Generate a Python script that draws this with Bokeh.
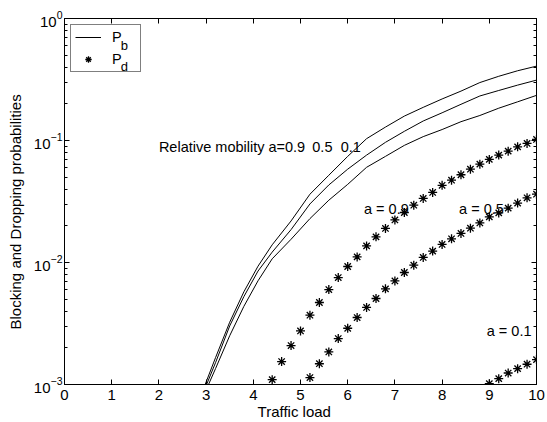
from bokeh.plotting import figure
from bokeh.models import (Range1d, LinearAxis, LogAxis, Label, Legend, LegendItem,
                          FixedTicker)
from bokeh.embed import file_html
from bokeh.resources import INLINE

# ---------------- data ----------------
pb_x_a09 = [2.95, 3.2, 3.5, 3.8, 4.1, 4.4, 4.8, 5.2, 5.6, 6.0, 6.4, 6.8, 7.2, 7.6, 8.0, 8.4, 8.8, 9.2, 9.6, 10.0]
pb_y_a09 = [0.000933, 0.00166, 0.00324, 0.00575, 0.00933, 0.01396, 0.0219, 0.0363, 0.0519, 0.0741,
            0.1035, 0.1288, 0.1585, 0.187, 0.219, 0.254, 0.2985, 0.336, 0.373, 0.407]
pb_x_a05 = [3.0, 3.2, 3.5, 3.8, 4.1, 4.4, 4.8, 5.2, 5.6, 6.0, 6.4, 6.8, 7.2, 7.6, 8.0, 8.4, 8.8, 9.2, 9.6, 10.0]
pb_y_a05 = [0.000977, 0.00151, 0.00302, 0.00525, 0.00851, 0.01216, 0.0186, 0.0302, 0.0432, 0.0582,
            0.0759, 0.0966, 0.1189, 0.1445, 0.1687, 0.198, 0.2317, 0.257, 0.2844, 0.3126]
pb_x_a01 = [3.04, 3.2, 3.5, 3.8, 4.1, 4.4, 4.8, 5.2, 5.6, 6.0, 6.4, 6.8, 7.2, 7.6, 8.0, 8.4, 8.8, 9.2, 9.6, 10.0]
pb_y_a01 = [0.000977, 0.00135, 0.00251, 0.00437, 0.00708, 0.01072, 0.0155, 0.0229, 0.0324, 0.0437,
            0.0603, 0.0741, 0.0912, 0.1076, 0.123, 0.1426, 0.1603, 0.184, 0.2075, 0.2344]

pd_x_a09 = [4.4, 4.6, 4.8, 5.0, 5.2, 5.4, 5.6, 5.8, 6.0, 6.2, 6.4, 6.6, 6.8, 7.0, 7.2, 7.4, 7.6, 7.8,
            8.0, 8.2, 8.4, 8.6, 8.8, 9.0, 9.2, 9.4, 9.6, 9.8, 10.0]
pd_y_a09 = [0.001096, 0.001542, 0.002084, 0.002748, 0.003698, 0.004699, 0.0060, 0.00753, 0.00927,
            0.01112, 0.01368, 0.01622, 0.01901, 0.02234, 0.0257, 0.0295, 0.0335, 0.0375, 0.0429,
            0.0473, 0.0524, 0.0582, 0.0640, 0.0700, 0.0759, 0.0818, 0.0887, 0.0946, 0.102]
pd_x_a05 = [5.2, 5.4, 5.6, 5.8, 6.0, 6.2, 6.4, 6.6, 6.8, 7.0, 7.2, 7.4, 7.6, 7.8, 8.0, 8.2, 8.4,
            8.6, 8.8, 9.0, 9.2, 9.4, 9.6, 9.8, 10.0]
pd_y_a05 = [0.00114, 0.00148, 0.00185, 0.00238, 0.00289, 0.00354, 0.00428, 0.00507, 0.00608,
            0.00706, 0.00828, 0.0095, 0.0110, 0.0124, 0.01406, 0.01563, 0.0173, 0.0191, 0.0211,
            0.02366, 0.0255, 0.0279, 0.0307, 0.0339, 0.0363]
pd_x_a01 = [9.0, 9.2, 9.4, 9.6, 9.8, 10.0]
pd_y_a01 = [0.001016, 0.001117, 0.001242, 0.001349, 0.001466, 0.0016]

x_ticks = [0, 1, 2, 3, 4, 5, 6, 7, 8, 9, 10]
y_ticks = [0.001, 0.01, 0.1, 1.0]
y_minor = [m * 10.0 ** e for e in (-3, -2, -1) for m in range(2, 10)]

FONT = "Liberation Sans"
FS_TICK = "15px"
FS_AXIS = "15px"
FS_NOTE = "14.5px"
NBSP = "\u00a0"

p = figure(width=547, height=422,
           x_range=Range1d(0, 10), y_range=Range1d(0.001, 1), y_axis_type="log",
           output_backend="svg", toolbar_location=None,
           min_border_left=64, min_border_right=11, min_border_top=18, min_border_bottom=38,
           background_fill_color="white", border_fill_color="white")
p.xgrid.visible = False
p.ygrid.visible = False
p.outline_line_color = "black"


def style_axis(ax, labels=True):
    ax.axis_line_color = "black"
    ax.major_tick_line_color = "black"
    ax.minor_tick_line_color = "black"
    ax.major_tick_in = 5
    ax.major_tick_out = 0
    ax.minor_tick_in = 3
    ax.minor_tick_out = 0
    ax.major_label_text_font = FONT
    ax.major_label_text_font_size = FS_TICK if labels else "1px"
    ax.major_label_text_alpha = 1 if labels else 0
    ax.major_label_text_color = "black"
    ax.axis_label_text_font = FONT
    ax.axis_label_text_font_size = FS_AXIS
    ax.axis_label_text_font_style = "normal"
    ax.axis_label_text_color = "black"


xt = FixedTicker(ticks=x_ticks, minor_ticks=[])
yt = FixedTicker(ticks=y_ticks, minor_ticks=y_minor)

xa = p.xaxis[0]
xa.ticker = xt
style_axis(xa)
xa.major_label_standoff = 5
xa.axis_label = "Traffic load" + NBSP * 3
xa.axis_label_standoff = 0

ya = p.yaxis[0]
ya.ticker = yt
style_axis(ya)
ya.major_label_standoff = 2
ya.axis_label = "Blocking and Dropping probabilities" + NBSP * 5
ya.axis_label_standoff = 7

top_ax = LinearAxis(ticker=xt)
style_axis(top_ax, labels=False)
top_ax.major_label_standoff = 0
p.add_layout(top_ax, "above")

right_ax = LogAxis(ticker=yt)
style_axis(right_ax, labels=False)
right_ax.major_label_standoff = 0
p.add_layout(right_ax, "right")

# Pb lines
r_pb = p.line(pb_x_a09, pb_y_a09, line_color="black", line_width=1)
p.line(pb_x_a05, pb_y_a05, line_color="black", line_width=1)
p.line(pb_x_a01, pb_y_a01, line_color="black", line_width=1)

# Pd asterisks
r_pd = p.scatter(pd_x_a09, pd_y_a09, marker="asterisk", size=9, line_color="black", line_width=1.3)
p.scatter(pd_x_a05, pd_y_a05, marker="asterisk", size=9, line_color="black", line_width=1.3)
p.scatter(pd_x_a01, pd_y_a01, marker="asterisk", size=9, line_color="black", line_width=1.3)


# annotations
def note(x, y, t, size=FS_NOTE):
    p.add_layout(Label(x=x, y=y, text=t, text_align="left", text_baseline="alphabetic",
                       text_font=FONT, text_font_size=size, text_color="black"))


note(2.0, 0.0887, "Relative mobility a=0.9")
note(5.25, 0.0887, "0.5")
note(5.851, 0.0887, "0.1")
note(6.345, 0.0277, "a = 0.9")
note(8.36, 0.0277, "a = 0.5")
note(8.946, 0.00273, "a = 0.1")

# subscripts of the legend labels (legend box is transparent so they show through)
note(1.19, 0.604, "b", "13px")
note(1.19, 0.401, "d", "13px")

# legend
legend = Legend(items=[LegendItem(label="P", renderers=[r_pb]),
                       LegendItem(label="P", renderers=[r_pd])],
                location="top_left", margin=6, padding=4, spacing=6,
                glyph_width=26, glyph_height=16, label_height=16, label_width=24,
                label_standoff=11, border_line_color="black", border_line_width=1,
                background_fill_alpha=0,
                label_text_font=FONT, label_text_font_size=FS_NOTE, label_text_color="black")
p.add_layout(legend)

open("out.html", "w").write(file_html(p, INLINE))
